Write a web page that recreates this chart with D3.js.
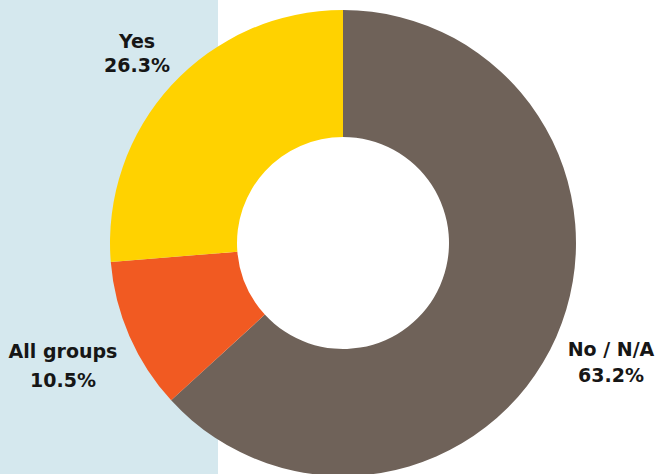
<!DOCTYPE html>
<html>
<head>
<meta charset="utf-8">
<script src="https://cdn.jsdelivr.net/npm/d3@7"></script>
<style>
  html, body { margin: 0; padding: 0; background: #fff; }
  svg { display: block; }
  text { font-family: "DejaVu Sans", "Noto Sans", sans-serif; font-weight: 700; fill: #161616; }
</style>
</head>
<body>
<svg id="chart" width="656" height="474"></svg>
<script>
// Share of responses, drawn clockwise from 12 o'clock
const categories = ["No / N/A", "All groups", "Yes"];
const shares = [63.2, 10.5, 26.3];
const colors = ["#6f6259", "#f15a22", "#ffd200"];
// Label anchor (centre x, first baseline y) and line gap for each slice
const labelPos = [[611, 356, 26], [63, 358, 28.5], [137, 48, 24]];

const W = 656, H = 474;
const svg = d3.select("#chart");

// pale panel behind the left side
svg.append("rect").attr("x", 0).attr("y", 0).attr("width", 218).attr("height", H).attr("fill", "#d5e8ee");

const cx = 343, cy = 243, rOuter = 233, rInner = 106;

const pie = d3.pie().sort(null).value(d => d);
const arc = d3.arc().innerRadius(rInner).outerRadius(rOuter);

const g = svg.append("g").attr("transform", `translate(${cx},${cy})`);
g.selectAll("path")
  .data(pie(shares))
  .join("path")
  .attr("d", arc)
  .attr("fill", (d, i) => colors[i]);

const labels = svg.append("g");
categories.forEach((c, i) => {
  const [x, y, gap] = labelPos[i];
  const t = labels.append("text")
    .attr("x", x)
    .attr("y", y)
    .attr("text-anchor", "middle")
    .style("font-size", "19px");
  t.append("tspan").attr("x", x).text(c);
  t.append("tspan").attr("x", x).attr("dy", gap).text(d3.format(".1f")(shares[i]) + "%");
});
</script>
</body>
</html>
